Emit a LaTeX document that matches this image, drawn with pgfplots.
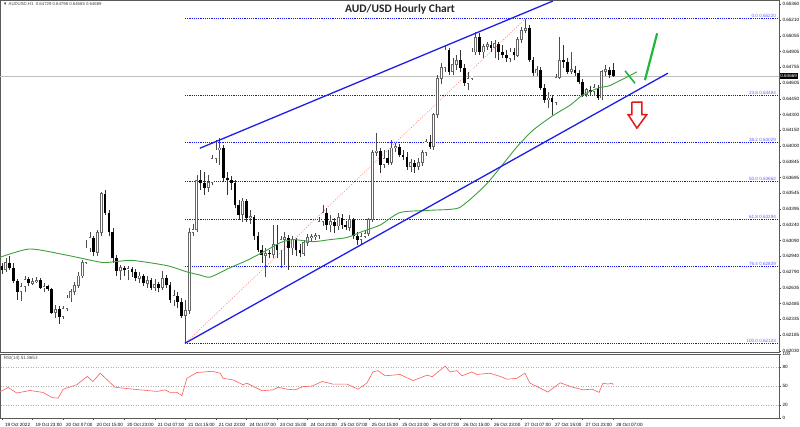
\documentclass[border=0pt]{standalone}
\usepackage{pgfplots}
\pgfplotsset{compat=1.18}
\usepackage{pgfplotstable}
\usepackage{fontspec}
\setmainfont{Liberation Sans}
\newfontfamily\titlefont{Carlito}
\newcommand\tinyf{\fontsize{4.6}{5}\selectfont}
\definecolor{ma}{RGB}{60,160,60}
\definecolor{trend}{RGB}{30,30,230}
\definecolor{fibc}{RGB}{20,20,255}
\definecolor{fibtxt}{RGB}{100,100,255}
\definecolor{rsi}{RGB}{255,90,90}
\definecolor{ann}{RGB}{30,185,60}
\definecolor{arrowred}{RGB}{235,20,20}

\pgfplotstableread{
i o h l c
1 0.6281 0.6292 0.6279 0.6288
5 0.6260 0.6268 0.6251 0.6265
6 0.6265 0.6275 0.6260 0.6272
8 0.6268 0.6273 0.6266 0.6270
9 0.6270 0.6274 0.6268 0.6271
11 0.6264 0.6268 0.6260 0.6265
14 0.6240 0.6247 0.6235 0.6243
16 0.6236 0.6246 0.6234 0.6244
17 0.6244 0.6257 0.6241 0.6254
18 0.6254 0.6263 0.6250 0.6260
19 0.6260 0.6269 0.6257 0.6266
20 0.6266 0.6279 0.6264 0.6275
21 0.6275 0.6290 0.6273 0.6288
22 0.6288 0.6310 0.6287 0.6302
23 0.6302 0.6317 0.6298 0.6312
25 0.6298 0.6319 0.6294 0.6317
26 0.6317 0.6356 0.6313 0.6354
31 0.6280 0.6286 0.6271 0.6283
33 0.6281 0.6285 0.6271 0.6282
36 0.6273 0.6279 0.6268 0.6275
38 0.6268 0.6275 0.6264 0.6271
40 0.6264 0.6272 0.6261 0.6267
42 0.6264 0.6280 0.6262 0.6273
45 0.6252 0.6262 0.6246 0.6256
48 0.6237 0.6252 0.6211 0.6242
49 0.6242 0.6321 0.6239 0.6317
50 0.6317 0.6325 0.6313 0.6320
51 0.6320 0.6372 0.6317 0.6367
54 0.6360 0.6372 0.6356 0.6365
55 0.6365 0.6391 0.6362 0.6388
56 0.6388 0.6406 0.6384 0.6396
57 0.6396 0.6408 0.6382 0.6398
63 0.6334 0.6350 0.6327 0.6347
65 0.6331 0.6338 0.6325 0.6332
69 0.6295 0.6302 0.6274 0.6297
71 0.6296 0.6324 0.6292 0.6305
73 0.6300 0.6313 0.6283 0.6310
74 0.6310 0.6317 0.6286 0.6312
76 0.6302 0.6313 0.6295 0.6310
79 0.6297 0.6310 0.6294 0.6307
80 0.6307 0.6315 0.6304 0.6312
81 0.6312 0.6315 0.6308 0.6313
82 0.6313 0.6316 0.6310 0.6314
83 0.6314 0.6332 0.6311 0.6327
84 0.6327 0.6343 0.6323 0.6336
86 0.6324 0.6334 0.6317 0.6327
88 0.6323 0.6336 0.6319 0.6331
91 0.6322 0.6334 0.6318 0.6329
94 0.6310 0.6316 0.6306 0.6313
95 0.6313 0.6319 0.6312 0.6316
96 0.6316 0.6331 0.6313 0.6329
97 0.6329 0.6396 0.6327 0.6394
98 0.6394 0.6412 0.6390 0.6395
100 0.6382 0.6396 0.6379 0.6388
102 0.6384 0.6406 0.6382 0.6398
103 0.6398 0.6403 0.6394 0.6399
107 0.6380 0.6387 0.6375 0.6384
109 0.6380 0.6388 0.6377 0.6384
110 0.6384 0.6396 0.6381 0.6394
111 0.6394 0.6407 0.6390 0.6404
113 0.6399 0.6432 0.6396 0.6430
114 0.6430 0.6468 0.6427 0.6465
115 0.6465 0.6480 0.6459 0.6475
116 0.6475 0.6497 0.6471 0.6492
118 0.6471 0.6484 0.6468 0.6478
119 0.6478 0.6487 0.6473 0.6482
122 0.6460 0.6471 0.6454 0.6465
123 0.6465 0.6494 0.6463 0.6490
124 0.6490 0.6509 0.6487 0.6504
126 0.6490 0.6498 0.6484 0.6495
127 0.6495 0.6500 0.6492 0.6497
129 0.6494 0.6502 0.6484 0.6498
133 0.6484 0.6494 0.6480 0.6490
135 0.6487 0.6504 0.6485 0.6502
136 0.6502 0.6514 0.6499 0.6511
137 0.6511 0.6522 0.6508 0.6513
140 0.6470 0.6477 0.6467 0.6473
143 0.6444 0.6452 0.6436 0.6446
145 0.6442 0.6469 0.6439 0.6466
146 0.6466 0.6504 0.6464 0.6482
149 0.6471 0.6490 0.6469 0.6473
153 0.6449 0.6456 0.6447 0.6454
155 0.6452 0.6459 0.6448 0.6456
157 0.6446 0.6473 0.6444 0.6471
158 0.6471 0.6478 0.6467 0.6473
}\bull

\pgfplotstableread{
i o h l c
0 0.6285 0.6288 0.6277 0.6281
2 0.6288 0.6294 0.6281 0.6283
3 0.6283 0.6288 0.6268 0.6270
4 0.6270 0.6272 0.6252 0.6260
7 0.6272 0.6274 0.6265 0.6268
10 0.6271 0.6273 0.6263 0.6264
12 0.6265 0.6266 0.6261 0.6263
13 0.6263 0.6264 0.6239 0.6240
15 0.6243 0.6246 0.6229 0.6236
24 0.6312 0.6313 0.6294 0.6298
27 0.6354 0.6358 0.6334 0.6336
28 0.6336 0.6338 0.6313 0.6317
29 0.6317 0.6321 0.6288 0.6292
30 0.6292 0.6295 0.6275 0.6280
32 0.6283 0.6285 0.6275 0.6281
34 0.6282 0.6284 0.6274 0.6279
35 0.6279 0.6282 0.6270 0.6273
37 0.6275 0.6277 0.6265 0.6268
39 0.6271 0.6273 0.6262 0.6264
41 0.6267 0.6269 0.6260 0.6264
43 0.6273 0.6276 0.6264 0.6266
44 0.6266 0.6269 0.6249 0.6252
46 0.6256 0.6260 0.6244 0.6250
47 0.6250 0.6254 0.6235 0.6237
52 0.6367 0.6377 0.6358 0.6364
53 0.6364 0.6375 0.6353 0.6360
58 0.6398 0.6401 0.6365 0.6369
59 0.6369 0.6375 0.6353 0.6367
60 0.6367 0.6371 0.6358 0.6364
61 0.6364 0.6367 0.6340 0.6343
62 0.6343 0.6348 0.6329 0.6334
64 0.6347 0.6349 0.6327 0.6331
66 0.6332 0.6334 0.6310 0.6313
67 0.6313 0.6317 0.6298 0.6300
68 0.6300 0.6305 0.6288 0.6295
70 0.6297 0.6300 0.6292 0.6296
72 0.6305 0.6324 0.6292 0.6300
75 0.6312 0.6314 0.6281 0.6302
77 0.6310 0.6312 0.6294 0.6300
78 0.6300 0.6306 0.6293 0.6297
85 0.6336 0.6340 0.6319 0.6324
87 0.6327 0.6331 0.6316 0.6323
89 0.6331 0.6335 0.6320 0.6324
90 0.6324 0.6328 0.6319 0.6322
92 0.6329 0.6331 0.6311 0.6313
93 0.6313 0.6317 0.6305 0.6310
99 0.6395 0.6398 0.6374 0.6382
101 0.6388 0.6396 0.6382 0.6384
104 0.6399 0.6402 0.6389 0.6391
105 0.6391 0.6396 0.6386 0.6389
106 0.6389 0.6394 0.6377 0.6380
108 0.6384 0.6386 0.6374 0.6380
112 0.6404 0.6410 0.6397 0.6399
117 0.6492 0.6494 0.6468 0.6471
120 0.6482 0.6492 0.6471 0.6475
121 0.6475 0.6479 0.6457 0.6460
125 0.6504 0.6508 0.6487 0.6490
128 0.6497 0.6501 0.6490 0.6494
130 0.6498 0.6500 0.6482 0.6490
131 0.6490 0.6497 0.6484 0.6487
132 0.6487 0.6492 0.6480 0.6484
134 0.6490 0.6494 0.6482 0.6487
138 0.6513 0.6516 0.6480 0.6482
139 0.6482 0.6485 0.6467 0.6470
141 0.6473 0.6476 0.6454 0.6456
142 0.6456 0.6459 0.6441 0.6444
144 0.6446 0.6448 0.6430 0.6442
147 0.6482 0.6497 0.6475 0.6480
148 0.6480 0.6484 0.6469 0.6471
150 0.6473 0.6477 0.6467 0.6470
151 0.6470 0.6473 0.6459 0.6461
152 0.6461 0.6464 0.6447 0.6449
154 0.6454 0.6457 0.6449 0.6452
156 0.6456 0.6458 0.6444 0.6446
159 0.6473 0.6476 0.6465 0.6468
160 0.64729 0.64796 0.64665 0.64669
}\bear

\begin{document}
\begin{tikzpicture}
\useasboundingbox (0,0) rectangle (800pt,-427pt);
\begin{axis}[
  at={(0pt,0pt)}, anchor=north west, scale only axis,
  width=779pt, height=352pt,
  xmin=-0.524, xmax=203.4, ymin=0.62021, ymax=0.654,
  xtick=\empty,
  ytick pos=right, tick align=outside, major tick length=2pt,
  ytick={0.6536,0.6521,0.65055,0.64905,0.64755,0.64605,0.6445,0.643,0.6415,0.64,0.63845,0.63695,0.63545,0.63395,0.6324,0.6309,0.6294,0.6279,0.62635,0.62485,0.62335,0.62185,0.6203},
  yticklabels={0.65360,0.65210,0.65055,0.64905,0.64755,0.64605,0.64450,0.64300,0.64150,0.64000,0.63845,0.63695,0.63545,0.63395,0.63240,0.63090,0.62940,0.62790,0.62635,0.62485,0.62335,0.62185,\raisebox{1pt}{0.62030}},
  yticklabel style={font=\tinyf, xshift=-2pt},
  tick style={black!70, line width=0.4pt},
  axis line style={black!65, line width=0.7pt},
]
% current price line
\addplot[black!25, line width=0.6pt] coordinates {(-1,0.64669) (204,0.64669)};
% fibonacci levels
\addplot[fibc, line width=0.75pt, dash pattern=on 1.2pt off 1pt] coordinates {(47.9,0.65220) (204,0.65220)};
\addplot[fibc, line width=0.75pt, dash pattern=on 1.2pt off 1pt] coordinates {(47.9,0.64484) (204,0.64484)};
\addplot[fibc, line width=0.75pt, dash pattern=on 1.2pt off 1pt] coordinates {(47.9,0.64029) (204,0.64029)};
\addplot[fibc, line width=0.75pt, dash pattern=on 1.2pt off 1pt] coordinates {(47.9,0.63662) (204,0.63662)};
\addplot[fibc, line width=0.75pt, dash pattern=on 1.2pt off 1pt] coordinates {(47.9,0.63294) (204,0.63294)};
\addplot[fibc, line width=0.75pt, dash pattern=on 1.2pt off 1pt] coordinates {(47.9,0.62839) (204,0.62839)};
\addplot[fibc, line width=0.75pt, dash pattern=on 1.2pt off 1pt] coordinates {(47.9,0.62103) (204,0.62103)};
% red dotted fib line
\addplot[rsi!80, line width=0.6pt, dash pattern=on 1pt off 1.5pt] coordinates {(47.9,0.62103) (137,0.65220)};
% wicks
\addplot[draw=none, error bars/.cd, y dir=plus, y explicit, error mark=none,
  error bar style={draw=black!70, line width=0.5pt}]
  table[x=i, y=l, y error plus expr={\thisrow{h}-\thisrow{l}}] {\bull};
\addplot[draw=none, error bars/.cd, y dir=plus, y explicit, error mark=none,
  error bar style={draw=black!80, line width=0.5pt}]
  table[x=i, y=l, y error plus expr={\thisrow{h}-\thisrow{l}}] {\bear};
% bull bodies
\addplot[draw=none, error bars/.cd, y dir=plus, y explicit, error mark=none,
  error bar style={draw=black!60, line width=2.7pt}]
  table[x=i, y expr={\thisrow{o}-0.00004}, y error plus expr={\thisrow{c}-\thisrow{o}+0.00008}] {\bull};
\addplot[draw=none, error bars/.cd, y dir=plus, y explicit, error mark=none,
  error bar style={draw=white, line width=1.3pt}]
  table[x=i, y expr={\thisrow{o}+0.00004}, y error plus expr={max(\thisrow{c}-\thisrow{o}-0.00008,0)}] {\bull};
% bear bodies
\addplot[draw=none, error bars/.cd, y dir=plus, y explicit, error mark=none,
  error bar style={draw=black, line width=2.7pt}]
  table[x=i, y=c, y error plus expr={\thisrow{o}-\thisrow{c}}] {\bear};
% moving average
\addplot[ma, line width=0.9pt, smooth, tension=0.4] coordinates {
(-0.5,0.6293) (7.3,0.6301) (17,0.6295) (20.9,0.6292) (26.4,0.6288) (30.1,0.6289)
(34.3,0.6290) (43.2,0.6285) (48.4,0.6279) (51.8,0.6276) (54.5,0.6274) (59.7,0.6283)
(64.1,0.6290) (69.4,0.6300) (72.8,0.6307) (76.2,0.6310) (81.4,0.6308) (85.9,0.6310)
(90.3,0.6312) (94.5,0.6318) (99,0.6324) (104.2,0.6336) (111.3,0.6338) (117.3,0.6339)
(119.9,0.6341) (123.3,0.6351) (127,0.6364) (130.4,0.6379) (134.8,0.6399) (139,0.6415)
(144.2,0.6429) (148.7,0.6439) (152.1,0.6449) (156.5,0.6456) (159.2,0.6458) (166.2,0.6471)};
% trend lines
\addplot[trend, line width=1.3pt] coordinates {(47.9,0.62105) (174.3,0.64697)};
\addplot[trend, line width=1.3pt] coordinates {(51.8,0.63977) (144.2,0.65390)};
% annotations
\addplot[ann, line width=1.6pt] coordinates {(163.1,0.6472) (165.7,0.6460)};
\addplot[ann, line width=2.2pt] coordinates {(168.3,0.6463) (171.5,0.6508)};
\addplot[arrowred, line width=1.5pt, fill=white, line join=miter] coordinates {
(164.9,0.6442) (167.5,0.6442) (167.5,0.6430) (168.8,0.6430) (166.2,0.6417)
(163.9,0.6430) (164.9,0.6430) (164.9,0.6442)};
% fib labels
\node[anchor=south east, font=\tinyf, text=fibtxt, inner sep=0.6pt] at (axis cs:202.8,0.65220) {0.0 0.65220};
\node[anchor=south east, font=\tinyf, text=fibtxt, inner sep=0.6pt] at (axis cs:202.8,0.64484) {23.6 0.64484};
\node[anchor=south east, font=\tinyf, text=fibtxt, inner sep=0.6pt] at (axis cs:202.8,0.64029) {38.2 0.64029};
\node[anchor=south east, font=\tinyf, text=fibtxt, inner sep=0.6pt] at (axis cs:202.8,0.63662) {50.0 0.63662};
\node[anchor=south east, font=\tinyf, text=fibtxt, inner sep=0.6pt] at (axis cs:202.8,0.63294) {61.8 0.63294};
\node[anchor=south east, font=\tinyf, text=fibtxt, inner sep=0.6pt] at (axis cs:202.8,0.62839) {76.4 0.62839};
\node[anchor=south east, font=\tinyf, text=fibtxt, inner sep=0.6pt] at (axis cs:202.8,0.62103) {100.0 0.62103};
\end{axis}

\begin{axis}[
  at={(0pt,-354pt)}, anchor=north west, scale only axis,
  width=779pt, height=64pt,
  xmin=-0.524, xmax=203.4, ymin=0, ymax=100,
  ytick pos=right, xtick pos=left, tick align=outside, major tick length=2pt,
  ytick={0,20,50,80,100}, yticklabels={0,20,50,80,\raisebox{-1.8pt}{100}},
  yticklabel style={font=\tinyf, xshift=-2pt},
  xtick={0,8,...,160},
  xticklabels={19 Oct 2022,19 Oct 23:00,20 Oct 07:00,20 Oct 15:00,20 Oct 23:00,21 Oct 07:00,21 Oct 15:00,21 Oct 23:00,24 Oct 07:00,24 Oct 15:00,24 Oct 23:00,25 Oct 07:00,25 Oct 15:00,25 Oct 23:00,26 Oct 07:00,26 Oct 15:00,26 Oct 23:00,27 Oct 07:00,27 Oct 15:00,27 Oct 23:00,28 Oct 07:00},
  xticklabel style={font=\tinyf, anchor=north west, xshift=-0.5pt, yshift=0.5pt},
  tick style={black!70, line width=0.4pt},
  axis line style={black!65, line width=0.7pt},
]
\addplot[black!30, dash pattern=on 1pt off 1.5pt, line width=0.5pt] coordinates {(-1,80) (204,80)};
\addplot[black!30, dash pattern=on 1pt off 1.5pt, line width=0.5pt] coordinates {(-1,50) (204,50)};
\addplot[black!30, dash pattern=on 1pt off 1.5pt, line width=0.5pt] coordinates {(-1,20) (204,20)};
\addplot[rsi, line width=0.6pt] coordinates {
(-0.5,41) (1.6,47.7) (3.9,39) (7.3,43) (10.7,40) (13.1,32) (14.7,31) (16,45) (19.6,52)
(22.3,65) (23.8,57) (25.7,70) (29.6,48) (34.3,45) (38,43) (40.6,41.5) (42.7,44) (44,40)
(45.8,40) (47.1,35) (48.4,62) (51,71) (55,73) (57.1,70) (57.9,62) (60.5,59.5) (63.1,52)
(64.1,54.5) (68.1,42.6) (70.9,44) (72.3,48) (74.6,45) (76.7,44) (78.8,49) (81.2,50)
(83.8,57) (86.6,53) (90.3,53) (93.2,45) (95.5,54.5) (97.1,72) (98.4,74) (100.3,66)
(104.2,68) (107.6,58.5) (111.3,67) (112.6,64.6) (116,81) (117.3,72) (119.1,74) (120.4,66)
(123,72) (124.3,68) (127.7,70) (130.4,65) (132.2,60.6) (134.8,62) (136.9,70) (138.2,54.5)
(140.1,49) (142.9,40.6) (146.1,55) (149.5,48) (152.1,44) (154.5,45) (156.3,40) (157.3,54.5)
(158.6,53) (159.7,54.5) (160,52)};
\node[anchor=north west, font=\tinyf, text=black!70, inner sep=0.5pt] at (rel axis cs:0.004,0.98) {RSI(14) 51.8653};
\end{axis}

% header texts
\node[anchor=north west, font=\fontsize{4.3}{5}\selectfont, text=black!75, inner sep=0pt] at (3pt,-2pt) {▼ AUDUSD,H1\ \ 0.64729 0.64796 0.64665 0.64669};
\node[font=\titlefont\bfseries\fontsize{11.5}{12}\selectfont, text=black!85, inner sep=0pt] at (400pt,-9pt) {AUD/USD Hourly Chart};
% current price tag
\node[fill=black, text=white, font=\tinyf, anchor=west, inner sep=0.6pt, minimum height=6pt] at (779.5pt,-76.1pt) {0.64669};
\end{tikzpicture}
\end{document}
